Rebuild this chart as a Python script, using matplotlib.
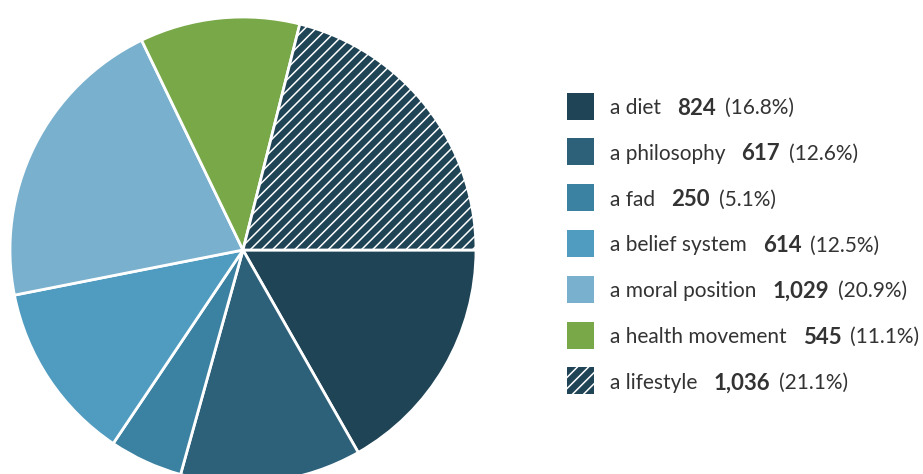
import matplotlib.pyplot as plt
from matplotlib.patches import Rectangle

labels = ["a diet", "a philosophy", "a fad", "a belief system",
          "a moral position", "a health movement", "a lifestyle"]
counts = [824, 617, 250, 614, 1029, 545, 1036]
percents = [16.8, 12.6, 5.1, 12.5, 20.9, 11.1, 21.1]
colors = ["#1f4456", "#2d6179", "#3b81a1", "#4f9cc0", "#78b0cd", "#78a848", "#1f4456"]
hatches = [None, None, None, None, None, None, "///"]

plt.rcParams['font.family'] = ['Lato', 'DejaVu Sans']
plt.rcParams['hatch.linewidth'] = 1.1

W, H = 923, 474
fig = plt.figure(figsize=(W / 100, H / 100), dpi=100)
ax = fig.add_axes([0, 0, 1, 1])

# pie in pixel units, y measured upward
wedges, _ = ax.pie(counts, colors=colors, startangle=0, counterclock=False,
                   center=(243, H - 250), radius=233,
                   wedgeprops=dict(edgecolor="white", linewidth=2))
for w, h in zip(wedges, hatches):
    if h:
        w.set_hatch(h)

ax.set_xlim(0, W)
ax.set_ylim(0, H)
ax.set_aspect('equal')
ax.axis('off')

# legend rows
renderer = fig.canvas.get_renderer()
y0, dy = 106, 45.8
txt_col = "#333333"
fs = 15
for i, (lab, n, p) in enumerate(zip(labels, counts, percents)):
    yc = H - (y0 + i * dy)
    ax.add_patch(Rectangle((567, yc - 13.5), 27, 27, facecolor=colors[i],
                           edgecolor="white" if hatches[i] else "none",
                           linewidth=0, hatch=hatches[i]))
    t1 = ax.text(610, yc, lab, fontsize=fs, color=txt_col, va='center_baseline')
    bb = t1.get_window_extent(renderer)
    t2 = ax.text(bb.x1 + 16, yc, f"{n:,}", fontsize=16, color=txt_col,
                 fontweight='bold', va='center_baseline')
    bb = t2.get_window_extent(renderer)
    ax.text(bb.x1 + 9, yc, f"({p}%)", fontsize=fs, color=txt_col,
            va='center_baseline')

fig.savefig("out.png", dpi=100)
